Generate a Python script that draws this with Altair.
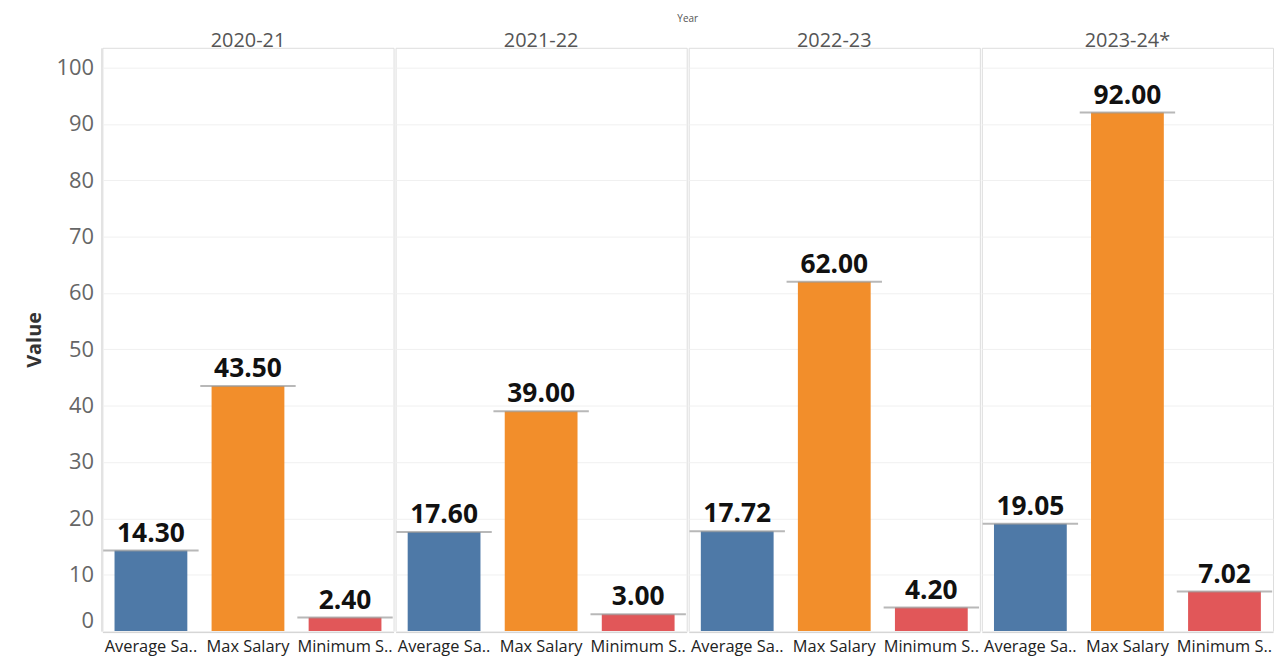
import altair as alt
import pandas as pd

YEARS = ["2020-21", "2021-22", "2022-23", "2023-24*"]
MEASURES = ["Average Salary", "Max Salary", "Minimum Salary"]
TICK_LABELS = ["Average Sa..", "Max Salary", "Minimum S.."]
AVG_SALARY = [14.30, 17.60, 17.72, 19.05]
MAX_SALARY = [43.50, 39.00, 62.00, 92.00]
MIN_SALARY = [2.40, 3.00, 4.20, 7.02]
COLORS = ["#4e79a7", "#f28e2b", "#e15759"]
Y_TICKS = [0, 10, 20, 30, 40, 50, 60, 70, 80, 90, 100]

rows = []
for i, yr in enumerate(YEARS):
    for m, vals in zip(MEASURES, [AVG_SALARY, MAX_SALARY, MIN_SALARY]):
        rows.append({"Year": yr, "Measure": m, "Value": vals[i]})
df = pd.DataFrame(rows)

label_expr = " : ".join(
    [f"datum.label == '{m}' ? '{t}'" for m, t in zip(MEASURES, TICK_LABELS)]
) + " : datum.label"

FONT = "Open Sans"

base = alt.Chart(df).encode(
    x=alt.X(
        "Measure:N",
        sort=MEASURES,
        scale=alt.Scale(paddingInner=0.25, paddingOuter=0.125),
        axis=alt.Axis(
            title=None, labelAngle=0, labelExpr=label_expr, ticks=False,
            domain=True, domainColor="#d0d0d0", labelFontSize=16.5, labelColor="#222",
            labelPadding=7, labelFont=FONT, labelLimit=200,
        ),
    ),
    y=alt.Y(
        "Value:Q",
        scale=alt.Scale(domain=[0, 103.5], nice=False),
        axis=alt.Axis(
            values=Y_TICKS, title="Value", titleFontSize=20, titleFontWeight="bold",
            titleColor="#333", titleFont=FONT, titlePadding=12,
            labelFontSize=22, labelColor="#666", labelFont=FONT, labelPadding=8,
            ticks=False, domain=True, domainColor="#d0d0d0",
            gridColor="#f0f0f0", labelFlush=True, labelFlushOffset=1,
        ),
    ),
)

bars = base.mark_bar().encode(
    color=alt.Color("Measure:N", scale=alt.Scale(domain=MEASURES, range=COLORS), legend=None)
)
ticks = base.mark_tick(color="#9a9a9a", thickness=2, size=96, orient="horizontal")
labels = base.mark_text(
    dy=-9, baseline="alphabetic", fontSize=26.5, fontWeight="bold", font=FONT, color="#111"
).encode(text=alt.Text("Value:Q", format=".2f"))

layer = alt.layer(bars, ticks, labels).properties(width=293, height=587)

chart = layer.facet(
    column=alt.Column(
        "Year:N",
        sort=YEARS,
        header=alt.Header(
            title="Year", titleFontSize=10, titleColor="#555", titleFont=FONT,
            titleFontWeight="normal", titlePadding=-3,
            labelFontSize=20, labelColor="#555", labelFont=FONT, labelPadding=-4,
        ),
    ),
    spacing=0,
).properties(
    padding={"left": 16, "top": 4, "right": 0, "bottom": 0}
).configure_view(stroke="#dcdcdc").configure(background="white")

chart.save("out.html", embed_options={"renderer": "svg", "actions": False})
